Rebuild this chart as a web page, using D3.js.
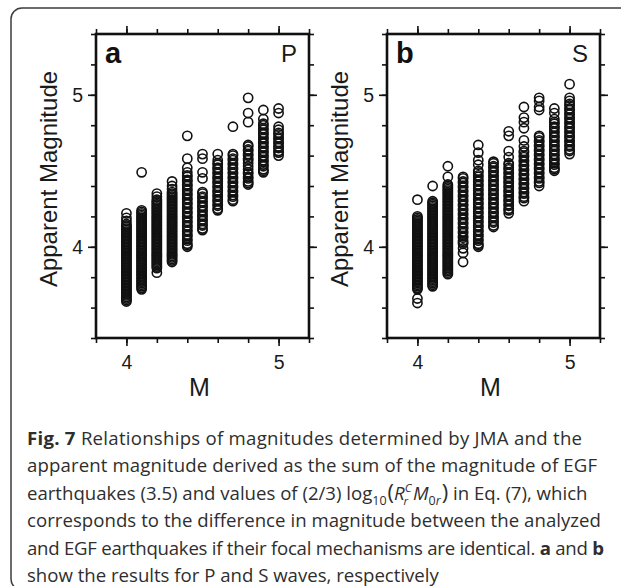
<!DOCTYPE html>
<html>
<head>
<meta charset="utf-8">
<script src="https://cdn.jsdelivr.net/npm/d3@7"></script>
<style>
  html, body { margin: 0; padding: 0; background: #fff; }
  svg { display: block; }
  .axis-label { font-family: "Liberation Sans", Arial, sans-serif; font-size: 24px; fill: #1a1a1a; }
  .panel-letter { font-family: "Liberation Sans", Arial, sans-serif; font-size: 29px; font-weight: bold; fill: #111; }
  .wave-label { font-family: "Liberation Sans", Arial, sans-serif; font-size: 24px; fill: #1a1a1a; }
  .caption { font-family: "Open Sans", sans-serif; font-size: 18.6px; fill: #2e2e2e; }
</style>
</head>
<body>
<div id="chart"></div>
<script>
// JMA magnitude columns
let magnitudes = [4.0, 4.1, 4.2, 4.3, 4.4, 4.5, 4.6, 4.7, 4.8, 4.9, 5.0];

// apparent magnitudes, P waves (one list per JMA magnitude)
let apparentP = [
  [4.22,4.19,4.17,4.15,4.14,4.13,4.12,4.11,4.10,4.09,4.08,4.07,4.06,4.05,4.04,4.03,4.02,4.01,4.00,3.99,3.98,3.97,3.96,3.95,3.94,3.93,3.92,3.91,3.90,3.89,3.88,3.87,3.86,3.85,3.84,3.83,3.82,3.81,3.80,3.79,3.78,3.77,3.76,3.75,3.74,3.73,3.72,3.71,3.70,3.69,3.68,3.67,3.66,3.65,3.64],
  [4.49,4.24,4.23,4.22,4.21,4.20,4.19,4.18,4.17,4.16,4.15,4.14,4.13,4.12,4.11,4.10,4.09,4.08,4.07,4.06,4.05,4.04,4.03,4.02,4.01,4.00,3.99,3.98,3.97,3.96,3.95,3.94,3.93,3.92,3.91,3.90,3.89,3.88,3.87,3.86,3.85,3.84,3.83,3.82,3.81,3.80,3.79,3.78,3.77,3.76,3.75,3.74,3.73,3.72],
  [4.35,4.33,4.31,4.30,4.29,4.28,4.27,4.26,4.25,4.24,4.23,4.22,4.21,4.20,4.19,4.18,4.17,4.16,4.15,4.14,4.13,4.12,4.11,4.10,4.09,4.08,4.07,4.06,4.05,4.04,4.03,4.02,4.01,4.00,3.99,3.98,3.97,3.96,3.95,3.94,3.93,3.92,3.91,3.90,3.89,3.88,3.87,3.86,3.83],
  [4.43,4.40,4.38,4.36,4.35,4.34,4.33,4.32,4.31,4.30,4.29,4.28,4.27,4.26,4.25,4.24,4.23,4.22,4.21,4.20,4.19,4.18,4.17,4.16,4.15,4.14,4.13,4.12,4.11,4.10,4.09,4.08,4.07,4.06,4.05,4.04,4.03,4.02,4.01,4.00,3.99,3.98,3.97,3.96,3.95,3.94,3.93,3.92,3.91,3.90],
  [4.73,4.58,4.52,4.49,4.47,4.46,4.44,4.43,4.41,4.40,4.38,4.37,4.35,4.34,4.32,4.31,4.29,4.28,4.26,4.25,4.23,4.22,4.20,4.19,4.17,4.16,4.14,4.13,4.11,4.10,4.08,4.07,4.05,4.04,4.02,4.01,4.00],
  [4.61,4.58,4.49,4.45,4.36,4.35,4.33,4.32,4.30,4.29,4.27,4.26,4.24,4.23,4.21,4.20,4.18,4.17,4.15,4.14,4.12,4.11],
  [4.61,4.57,4.55,4.54,4.52,4.51,4.49,4.48,4.46,4.45,4.43,4.42,4.40,4.39,4.37,4.36,4.34,4.33,4.31,4.30,4.28,4.27,4.25,4.24],
  [4.79,4.61,4.60,4.58,4.57,4.55,4.54,4.52,4.51,4.49,4.48,4.46,4.45,4.43,4.42,4.40,4.39,4.37,4.36,4.34,4.33,4.31,4.30],
  [4.98,4.88,4.82,4.67,4.66,4.64,4.63,4.61,4.60,4.58,4.57,4.55,4.53,4.51,4.49,4.48,4.46,4.45,4.43,4.42,4.41],
  [4.90,4.84,4.81,4.80,4.78,4.77,4.75,4.74,4.72,4.71,4.69,4.68,4.66,4.65,4.63,4.62,4.60,4.59,4.57,4.56,4.54,4.53,4.51,4.50,4.49],
  [4.91,4.88,4.79,4.77,4.75,4.74,4.72,4.71,4.69,4.68,4.66,4.65,4.63,4.62,4.60]
];

// apparent magnitudes, S waves
let apparentS = [
  [4.31,4.20,4.19,4.18,4.17,4.16,4.15,4.14,4.13,4.12,4.11,4.10,4.09,4.08,4.07,4.06,4.05,4.04,4.03,4.02,4.01,4.00,3.99,3.98,3.97,3.96,3.95,3.94,3.93,3.92,3.91,3.90,3.89,3.88,3.87,3.86,3.85,3.84,3.83,3.82,3.81,3.80,3.79,3.78,3.77,3.76,3.75,3.74,3.73,3.72,3.66,3.63],
  [4.40,4.30,4.29,4.28,4.27,4.26,4.25,4.24,4.23,4.22,4.21,4.20,4.19,4.18,4.17,4.16,4.15,4.14,4.13,4.12,4.11,4.10,4.09,4.08,4.07,4.06,4.05,4.04,4.03,4.02,4.01,4.00,3.99,3.98,3.97,3.96,3.95,3.94,3.93,3.92,3.91,3.90,3.89,3.88,3.87,3.86,3.85,3.84,3.83,3.82,3.81,3.80,3.79,3.78,3.77,3.76,3.75,3.74],
  [4.53,4.46,4.41,4.40,4.39,4.38,4.37,4.36,4.35,4.34,4.33,4.32,4.31,4.30,4.29,4.28,4.27,4.26,4.25,4.24,4.23,4.22,4.21,4.20,4.19,4.18,4.17,4.16,4.15,4.14,4.13,4.12,4.11,4.10,4.09,4.08,4.07,4.06,4.05,4.04,4.03,4.02,4.01,4.00,3.99,3.98,3.97,3.96,3.95,3.94,3.93,3.92,3.91,3.90,3.89,3.88,3.87,3.86,3.85,3.84,3.83,3.82],
  [4.46,4.45,4.43,4.42,4.40,4.39,4.37,4.36,4.34,4.33,4.31,4.30,4.28,4.27,4.25,4.24,4.22,4.21,4.19,4.18,4.16,4.15,4.13,4.12,4.10,4.09,4.07,4.06,4.04,4.03,4.02,3.99,3.96,3.90],
  [4.67,4.62,4.57,4.54,4.50,4.49,4.47,4.46,4.44,4.43,4.41,4.40,4.38,4.37,4.35,4.34,4.32,4.31,4.29,4.28,4.26,4.25,4.23,4.22,4.20,4.19,4.17,4.16,4.14,4.13,4.11,4.10,4.08,4.07,4.05,4.04,4.02,4.01,4.00],
  [4.56,4.55,4.53,4.52,4.50,4.49,4.47,4.46,4.44,4.43,4.41,4.40,4.38,4.37,4.35,4.34,4.32,4.31,4.29,4.28,4.26,4.25,4.23,4.22,4.20,4.19,4.17,4.16,4.14,4.13],
  [4.76,4.73,4.63,4.59,4.55,4.54,4.52,4.51,4.49,4.48,4.46,4.45,4.43,4.42,4.40,4.39,4.37,4.36,4.34,4.33,4.31,4.30,4.28,4.27,4.25,4.24,4.22],
  [4.92,4.85,4.82,4.78,4.70,4.66,4.63,4.62,4.60,4.59,4.57,4.56,4.54,4.53,4.51,4.50,4.48,4.47,4.45,4.44,4.42,4.41,4.39,4.38,4.36,4.35,4.33,4.32,4.30],
  [4.98,4.96,4.92,4.90,4.73,4.72,4.70,4.69,4.67,4.66,4.64,4.63,4.61,4.60,4.58,4.57,4.55,4.54,4.52,4.51,4.49,4.48,4.46,4.45,4.43,4.42,4.40],
  [4.91,4.88,4.84,4.82,4.81,4.79,4.78,4.76,4.75,4.73,4.72,4.70,4.69,4.67,4.66,4.64,4.63,4.61,4.60,4.58,4.57,4.55,4.54,4.52,4.51,4.50],
  [5.07,4.98,4.96,4.94,4.93,4.91,4.90,4.88,4.87,4.85,4.84,4.82,4.81,4.79,4.78,4.76,4.75,4.73,4.72,4.70,4.69,4.67,4.66,4.64,4.63,4.61]
];

// axis ticks
let xMinorTicks = [3.8, 4.0, 4.2, 4.4, 4.6, 4.8, 5.0, 5.2];
let xMajorTicks = [4, 5];
let yMinorTicks = [3.4, 3.6, 3.8, 4.0, 4.2, 4.4, 4.6, 4.8, 5.0, 5.2, 5.4];
let yMajorTicks = [4, 5];

let captionLines = [
  "Relationships of magnitudes determined by JMA and the",
  "apparent magnitude derived as the sum of the magnitude of EGF",
  "", // line with the formula, built below
  "corresponds to the difference in magnitude between the analyzed",
  "and EGF earthquakes if their focal mechanisms are identical.",
  "show the results for P and S waves, respectively"
];

let svg = d3.select("#chart")
  .append("svg")
    .attr("width", 621)
    .attr("height", 586);

// outer rounded box
svg.append("rect")
  .attr("x", 11)
  .attr("y", 8)
  .attr("width", 640)
  .attr("height", 582)
  .attr("rx", 11)
  .style("fill", "none")
  .style("stroke", "#3c3c3c")
  .style("stroke-width", 1.5);

let panelWidth = 213,
    panelHeight = 304;

function createPanel(values, letter, wave, left, top) {
  let g = svg.append("g")
    .attr("transform", "translate(" + left + "," + top + ")");

  let x = d3.scaleLinear().domain([3.8, 5.2]).range([0, panelWidth]);
  let y = d3.scaleLinear().domain([3.4, 5.4]).range([panelHeight, 0]);

  // minor ticks on all four sides
  g.append("g").attr("transform", "translate(0," + panelHeight + ")")
    .call(d3.axisBottom(x).tickValues(xMinorTicks).tickSize(5).tickFormat(""));
  g.append("g")
    .call(d3.axisTop(x).tickValues(xMinorTicks).tickSize(5).tickFormat(""));
  g.append("g")
    .call(d3.axisLeft(y).tickValues(yMinorTicks).tickSize(5).tickFormat(""));
  g.append("g").attr("transform", "translate(" + panelWidth + ",0)")
    .call(d3.axisRight(y).tickValues(yMinorTicks).tickSize(5).tickFormat(""));

  // major ticks, labelled on left and bottom
  g.append("g").attr("transform", "translate(0," + panelHeight + ")")
    .call(d3.axisBottom(x).tickValues(xMajorTicks).tickSize(8).tickPadding(9).tickFormat(d3.format("d")))
    .attr("font-size", 19.5)
    .attr("font-family", "Liberation Sans, Arial, sans-serif");
  g.append("g")
    .call(d3.axisTop(x).tickValues(xMajorTicks).tickSize(8).tickFormat(""));
  g.append("g")
    .call(d3.axisLeft(y).tickValues(yMajorTicks).tickSize(8).tickPadding(5).tickFormat(d3.format("d")))
    .attr("font-size", 19.5)
    .attr("font-family", "Liberation Sans, Arial, sans-serif");
  g.append("g").attr("transform", "translate(" + panelWidth + ",0)")
    .call(d3.axisRight(y).tickValues(yMajorTicks).tickSize(8).tickFormat(""));

  g.selectAll(".domain").remove();
  g.selectAll(".tick line").style("stroke", "#111").style("stroke-width", 1.6);
  g.selectAll(".tick text").style("fill", "#1a1a1a");

  // the points
  let points = [];
  magnitudes.forEach((m, i) => {
    values[i].forEach(v => points.push({m: m, v: v}));
  });

  g.selectAll("circle")
    .data(points)
    .enter()
    .append("circle")
      .attr("cx", d => x(d.m))
      .attr("cy", d => y(d.v))
      .attr("r", 4.6)
      .style("fill", "none")
      .style("stroke", "#111")
      .style("stroke-width", 1.6);

  // frame
  g.append("rect")
    .attr("width", panelWidth)
    .attr("height", panelHeight)
    .style("fill", "none")
    .style("stroke", "#111")
    .style("stroke-width", 2.6);

  // labels
  g.append("text")
    .attr("class", "panel-letter")
    .attr("x", 9)
    .attr("y", 29)
    .text(letter);

  g.append("text")
    .attr("class", "wave-label")
    .attr("text-anchor", "end")
    .attr("x", panelWidth - 12)
    .attr("y", 28)
    .text(wave);

  g.append("text")
    .attr("class", "axis-label")
    .style("font-size", "25px")
    .attr("text-anchor", "middle")
    .attr("x", panelWidth / 2 - 3)
    .attr("y", panelHeight + 58)
    .text("M");

  g.append("text")
    .attr("class", "axis-label")
    .attr("text-anchor", "middle")
    .attr("transform", "translate(-39," + (panelHeight / 2 - 7) + ") rotate(-90)")
    .text("Apparent Magnitude");
}

createPanel(apparentP, "a", "P", 96, 34);
createPanel(apparentS, "b", "S", 387, 34);

// caption
let capX = 27,
    capY = 445,
    lineGap = 27.4;

// widths of the caption lines as they are set in the figure
let lineWidths = [555, 570, 570, 574, 577];

let cap = svg.append("g").attr("class", "caption");

let line0 = cap.append("text").attr("x", capX).attr("y", capY)
  .attr("textLength", lineWidths[0]).attr("lengthAdjust", "spacing");
line0.append("tspan").style("font-weight", "bold").text("Fig. 7");
line0.append("tspan").text(" " + captionLines[0]);

cap.append("text").attr("x", capX).attr("y", capY + lineGap)
  .attr("textLength", lineWidths[1]).attr("lengthAdjust", "spacing")
  .text(captionLines[1]);

// formula line: (2/3) log10(Rr^C M0r)
let line2 = cap.append("text").attr("x", capX).attr("y", capY + 2 * lineGap);
line2.append("tspan").text("earthquakes (3.5) and values of (2/3) log");
line2.append("tspan").attr("dy", 5).style("font-size", "12.5px").text("10");
line2.append("tspan").attr("dx", 1).attr("dy", -5).style("font-size", "22px").text("(");
line2.append("tspan").style("font-style", "italic").text("R");
line2.append("tspan").attr("dy", -8).style("font-size", "11.5px").style("font-style", "italic").text("C");
line2.append("tspan").attr("dx", -8).attr("dy", 13).style("font-size", "11.5px").style("font-style", "italic").text("r");
line2.append("tspan").attr("dx", 5).attr("dy", -5).style("font-style", "italic").text("M");
line2.append("tspan").attr("dy", 5).style("font-size", "12.5px").text("0");
line2.append("tspan").style("font-size", "12.5px").style("font-style", "italic").text("r");
line2.append("tspan").attr("dx", 1).attr("dy", -5).style("font-size", "22px").text(")");
line2.append("tspan").text(" in Eq. (7), which");

cap.append("text").attr("x", capX).attr("y", capY + 3 * lineGap)
  .attr("textLength", lineWidths[3]).attr("lengthAdjust", "spacing")
  .text(captionLines[3]);

let line4 = cap.append("text").attr("x", capX).attr("y", capY + 4 * lineGap)
  .attr("textLength", lineWidths[4]).attr("lengthAdjust", "spacing");
line4.append("tspan").text(captionLines[4] + " ");
line4.append("tspan").style("font-weight", "bold").text("a");
line4.append("tspan").text(" and ");
line4.append("tspan").style("font-weight", "bold").text("b");

cap.append("text").attr("x", capX).attr("y", capY + 5 * lineGap).text(captionLines[5]);
</script>
</body>
</html>
